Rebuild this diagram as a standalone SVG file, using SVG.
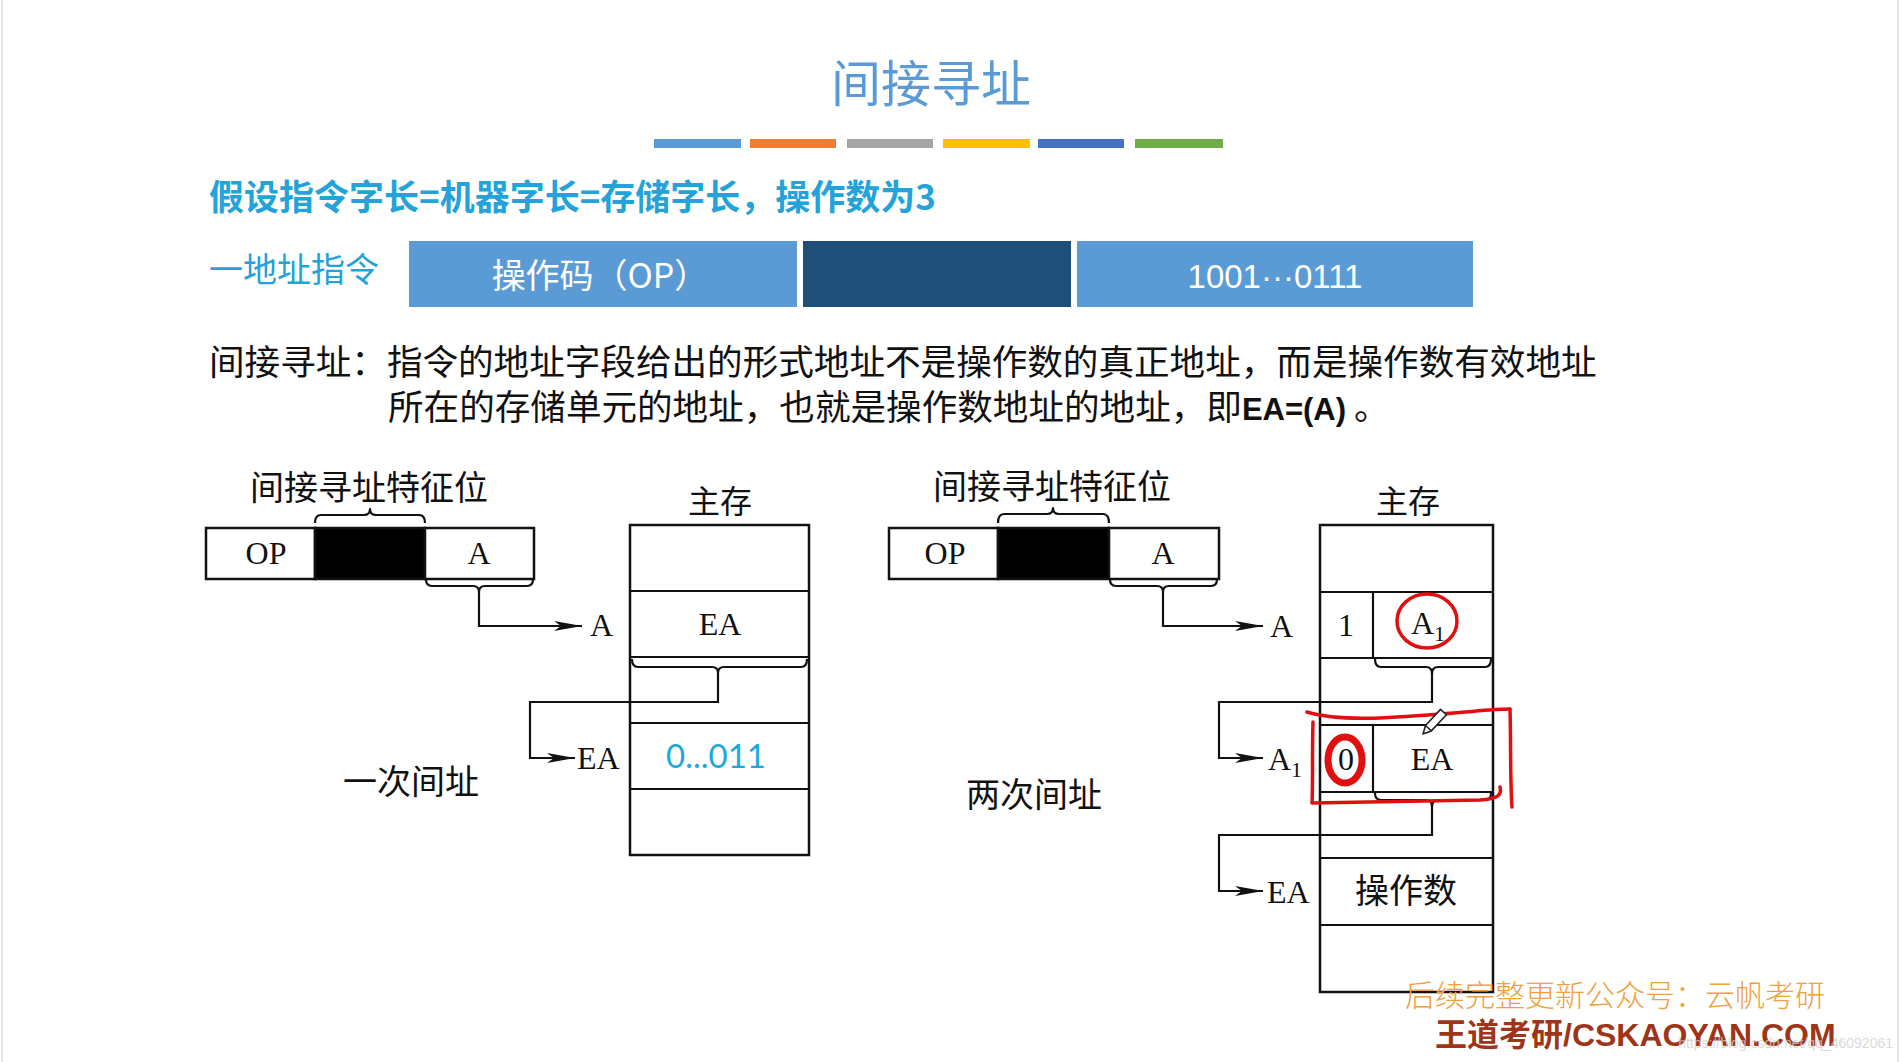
<svg xmlns="http://www.w3.org/2000/svg" width="1902" height="1062" viewBox="0 0 1902 1062">
<style>
.box{fill:#fff;stroke:#111;stroke-width:2.5}
.blk{fill:#000;stroke:#111;stroke-width:2.5}
.ln{fill:none;stroke:#111;stroke-width:2.2}
.br{fill:none;stroke:#111;stroke-width:2.2;stroke-linejoin:round}
.ser{font-family:'Liberation Serif','Noto Sans CJK SC',serif;fill:#111}
.cjk{font-family:'Noto Sans CJK SC',sans-serif;fill:#111}
.red{fill:none;stroke:#e01010;stroke-width:3.5;stroke-linecap:round;stroke-linejoin:round}
.cy{fill:#23a3d9}
</style>
<defs>
<marker id="arr" markerUnits="userSpaceOnUse" markerWidth="28" markerHeight="10" refX="28" refY="5" orient="auto">
<path d="M0,0 L28,5 L0,10 L7,5 Z" fill="#111"/>
</marker>
</defs>
<rect width="1902" height="1062" fill="#fff"/>
<line x1="2" y1="0" x2="2" y2="1062" stroke="#e4e4e4" stroke-width="2"/>
<line x1="1898" y1="0" x2="1898" y2="1062" stroke="#e4e4e4" stroke-width="2"/>

<g id="title">
<text x="931" y="102" text-anchor="middle" font-family="'Noto Sans CJK SC',sans-serif" font-size="50" fill="#5b9bd5">间接寻址</text>
<rect x="654" y="139" width="87" height="9" fill="#5b9bd5"/>
<rect x="750" y="139" width="86" height="9" fill="#ed7d31"/>
<rect x="847" y="139" width="86" height="9" fill="#a5a5a5"/>
<rect x="943" y="139" width="87" height="9" fill="#ffc000"/>
<rect x="1038" y="139" width="86" height="9" fill="#4472c4"/>
<rect x="1135" y="139" width="88" height="9" fill="#70ad47"/>
</g>

<g id="assume">
<text x="209" y="210" font-family="'Noto Sans CJK SC',sans-serif" font-size="35" font-weight="bold" class="cy">假设指令字长=机器字长=存储字长，操作数为3</text>
</g>

<g id="instr-bar">
<text x="209" y="282" font-family="'Noto Sans CJK SC',sans-serif" font-size="34" class="cy">一地址指令</text>
<rect x="409" y="241" width="388" height="66" fill="#5b9bd5"/>
<rect x="803" y="241" width="268" height="66" fill="#1f4e79"/>
<rect x="1077" y="241" width="396" height="66" fill="#5b9bd5"/>
<text x="600" y="288" text-anchor="middle" font-family="'Noto Sans CJK SC',sans-serif" font-size="34" fill="#fff">操作码（OP）</text>
<text x="1275" y="288" text-anchor="middle" font-family="'Liberation Sans',sans-serif" font-size="33" fill="#fff">1001···0111</text>
</g>

<g id="definition" font-family="'Noto Sans CJK SC',sans-serif" font-size="35.6" fill="#111">
<text x="209" y="375">间接寻址：指令的地址字段给出的形式地址不是操作数的真正地址，而是操作数有效地址</text>
<text x="388" y="420">所在的存储单元的地址，也就是操作数地址的地址，即<tspan font-family="'Liberation Sans',sans-serif" font-weight="bold" font-size="31">EA=(A)</tspan> 。</text>
</g>

<!-- Left diagram -->
<g id="left-instr">
<text x="369" y="500" text-anchor="middle" class="cjk" font-size="34">间接寻址特征位</text>
<rect x="206" y="528" width="109" height="51" class="box"/>
<rect x="315" y="528" width="110" height="51" class="blk"/>
<rect x="425" y="528" width="109" height="51" class="box"/>
<text x="266" y="564" text-anchor="middle" class="ser" font-size="32">OP</text>
<text x="479" y="564" text-anchor="middle" class="ser" font-size="32">A</text>
</g>
<g id="left-memory">
<text x="720" y="513" text-anchor="middle" class="cjk" font-size="32">主存</text>
<rect x="630" y="525" width="179" height="330" class="box"/>
<line x1="630" y1="591" x2="809" y2="591" class="ln"/>
<line x1="630" y1="657" x2="809" y2="657" class="ln"/>
<line x1="630" y1="723" x2="809" y2="723" class="ln"/>
<line x1="630" y1="789" x2="809" y2="789" class="ln"/>
<text x="720" y="635" text-anchor="middle" class="ser" font-size="32">EA</text>
<text x="716" y="768" text-anchor="middle" font-family="Lato,'Open Sans',sans-serif" font-size="33" fill="#20a8dc">0...011</text>
<text x="590" y="636" class="ser" font-size="32">A</text>
<text x="577" y="769" class="ser" font-size="32">EA</text>
</g>
<g id="left-caption">
<text x="411" y="794" text-anchor="middle" class="cjk" font-size="34">一次间址</text>
</g>

<!-- Right diagram -->
<g id="right-instr">
<text x="1052" y="499" text-anchor="middle" class="cjk" font-size="34">间接寻址特征位</text>
<rect x="889" y="528" width="109" height="51" class="box"/>
<rect x="998" y="528" width="111" height="51" class="blk"/>
<rect x="1109" y="528" width="110" height="51" class="box"/>
<text x="945" y="564" text-anchor="middle" class="ser" font-size="32">OP</text>
<text x="1163" y="564" text-anchor="middle" class="ser" font-size="32">A</text>
</g>
<g id="right-memory">
<text x="1408" y="513" text-anchor="middle" class="cjk" font-size="32">主存</text>
<rect x="1320" y="525" width="173" height="467" class="box"/>
<line x1="1320" y1="592" x2="1493" y2="592" class="ln"/>
<line x1="1320" y1="658" x2="1493" y2="658" class="ln"/>
<line x1="1320" y1="725" x2="1493" y2="725" class="ln"/>
<line x1="1320" y1="792" x2="1493" y2="792" class="ln"/>
<line x1="1320" y1="858" x2="1493" y2="858" class="ln"/>
<line x1="1320" y1="925" x2="1493" y2="925" class="ln"/>
<line x1="1373" y1="592" x2="1373" y2="658" class="ln"/>
<line x1="1373" y1="725" x2="1373" y2="792" class="ln"/>
<text x="1346" y="636" text-anchor="middle" class="ser" font-size="32">1</text>
<text x="1428" y="634" text-anchor="middle" class="ser" font-size="32">A<tspan font-size="22" dy="7">1</tspan></text>
<text x="1346" y="770" text-anchor="middle" class="ser" font-size="32">0</text>
<text x="1432" y="770" text-anchor="middle" class="ser" font-size="32">EA</text>
<text x="1406" y="903" text-anchor="middle" class="cjk" font-size="34">操作数</text>
<text x="1270" y="637" class="ser" font-size="32">A</text>
<text x="1268" y="770" class="ser" font-size="32">A<tspan font-size="22" dy="7">1</tspan></text>
<text x="1267" y="903" class="ser" font-size="32">EA</text>
</g>
<g id="right-caption">
<text x="1034" y="807" text-anchor="middle" class="cjk" font-size="34">两次间址</text>
</g>

<g id="connectors">
<path class="br" d="M315,523 Q315,515 321,515 H364 Q370,515 370,509 Q370,515 376,515 H419 Q425,515 425,523"/>
<path class="br" d="M426,579 Q426,586 432,586 H473 Q479,586 479,592 Q479,586 485,586 H527 Q533,586 533,579"/>
<path class="ln" d="M479,592 V626 H582" marker-end="url(#arr)"/>
<path class="br" d="M632,659 Q632,667 638,667 H712 Q718,667 718,673 Q718,667 724,667 H801 Q807,667 807,659"/>
<path class="ln" d="M718,673 V702 H530 V758 H575" marker-end="url(#arr)"/>

<path class="br" d="M998,523 Q998,514 1004,514 H1047 Q1053,514 1053,508 Q1053,514 1059,514 H1103 Q1109,514 1109,523"/>
<path class="br" d="M1110,579 Q1110,586 1116,586 H1157 Q1163,586 1163,592 Q1163,586 1169,586 H1211 Q1217,586 1217,579"/>
<path class="ln" d="M1163,592 V626 H1263" marker-end="url(#arr)"/>
<path class="br" d="M1375,659 Q1375,667 1381,667 H1426 Q1432,667 1432,674 Q1432,667 1438,667 H1485 Q1491,667 1491,659"/>
<path class="ln" d="M1432,674 V702 H1219 V758 H1263" marker-end="url(#arr)"/>
<path class="br" d="M1375,793 Q1375,800 1381,800 H1426 Q1432,800 1432,807 Q1432,800 1438,800 H1485 Q1491,800 1491,793"/>
<path class="ln" d="M1432,807 V835 H1219 V891 H1263" marker-end="url(#arr)"/>
</g>

<g id="annotations">
<ellipse cx="1427" cy="621" rx="30" ry="27" class="red"/>
<ellipse cx="1345" cy="760" rx="17" ry="23" fill="none" stroke="#e01010" stroke-width="7"/>
<path class="red" d="M1307,712 C1340,722 1390,718 1440,714 C1470,712 1492,709 1510,709"/>
<path class="red" d="M1510,709 C1511,740 1510,780 1512,807"/>
<path class="red" d="M1313,722 C1312,755 1313,785 1312,803 C1360,802 1420,801 1480,800 C1498,799 1502,795 1500,787"/>
<g transform="translate(1423,734) rotate(-47)">
<path d="M0,0 L8,-4 L30,-4 L30,4 L8,4 Z" fill="#fff" stroke="#222" stroke-width="1.6" stroke-linejoin="round"/>
<line x1="8" y1="-4" x2="8" y2="4" stroke="#222" stroke-width="1.4"/>
</g>
</g>

<g id="watermarks">
<text x="1405" y="1006" font-family="'Noto Sans CJK SC',sans-serif" font-size="30" font-weight="300" fill="#f0a040">后续完整更新公众号：云帆考研</text>
<text x="1435" y="1046" font-family="'Liberation Sans','Noto Sans CJK SC',sans-serif" font-size="32" font-weight="bold" fill="#9e3418">王道考研/CSKAOYAN.COM</text>
<text x="1893" y="1048" text-anchor="end" font-family="'Liberation Sans',sans-serif" font-size="14" fill="#cfcfcf" fill-opacity="0.8">https://blog.csdn.net/qq_46092061</text>
</g>
</svg>
